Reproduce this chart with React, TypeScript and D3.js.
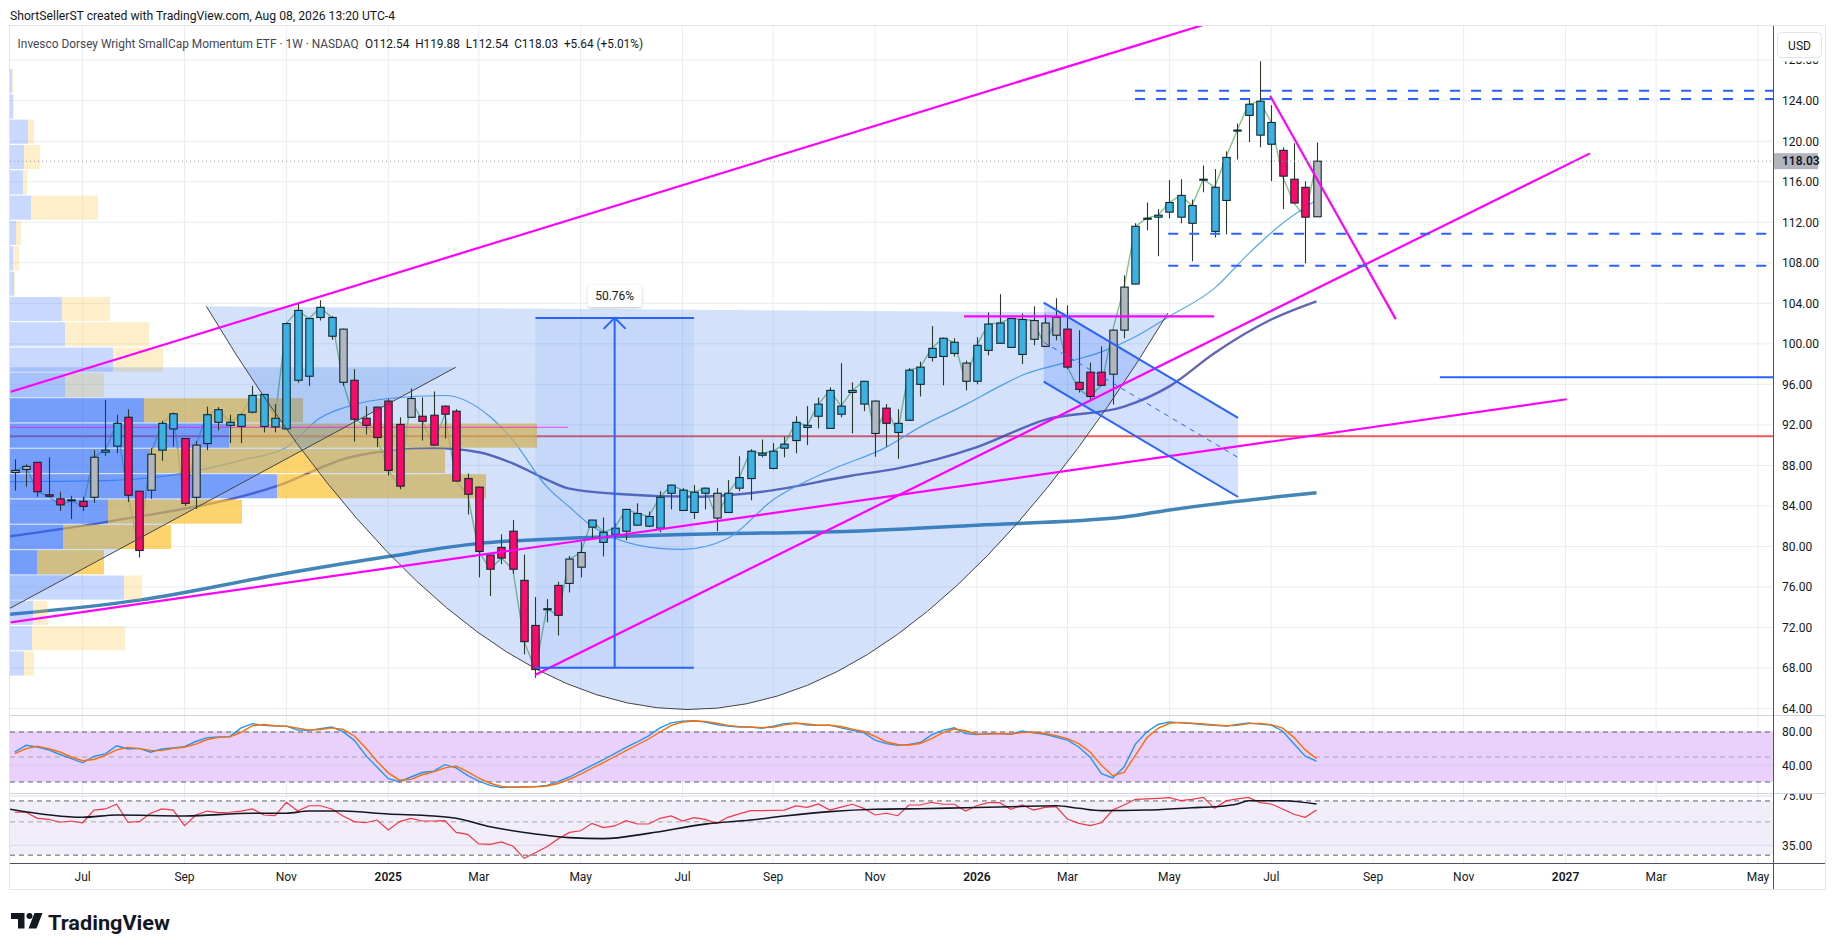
import * as d3 from 'd3';

const W = 1835;
const H = 951;
const FONT = "Roboto, 'Noto Sans', Arial, sans-serif";

// first visible weekly bar (Monday)
const firstBar = new Date(2024, 4, 20);

// weekly OHLC, oldest first
const opens = [
  87.3, 87.6, 88.3, 85.1, 84.7, 84.6, 84.45, 84.85, 89.3, 89.9,
  92.75, 85.45, 85.55, 89.5, 91.6, 90.65, 84.85, 90.15, 92.25, 91.95,
  91.85, 93.25, 91.85, 91.8, 91.6, 96.4, 96.8, 102.6, 100.75, 101.45,
  96.4, 92.65, 93.75, 94.35, 92.05, 92.75, 92.85, 92.95, 93.85, 93.35,
  86.7, 85.85, 79.15, 79.9, 81.5, 76.65, 72.2, 73.8, 76.15, 76.35,
  77.95, 81.9, 80.4, 81.2, 81.5, 82.1, 82.0, 81.8, 85.25, 83.55,
  83.35, 85.25, 85.25, 83.35, 85.75, 86.7, 89.0, 87.7, 89.7, 90.45,
  91.75, 92.85, 91.65, 93.05, 95.2, 94.05, 94.35, 92.15, 92.15, 92.45,
  96.0, 98.65, 98.75, 99.05, 98.1, 96.3, 99.35, 100.05, 99.65, 98.95,
  100.45, 102.05, 100.85, 101.45, 96.2, 97.2, 97.2, 97.0, 101.35, 105.9,
  112.3, 112.5, 113.0, 112.5, 111.9, 116.15, 111.1, 114.15, 121.05, 122.55,
  120.6, 119.7, 119.1, 116.25, 115.45, 112.54,
];
const highs = [
  88.6, 88.1, 88.3, 88.8, 85.4, 85.0, 84.9, 89.5, 94.45, 93.0,
  93.55, 85.5, 89.7, 92.4, 93.2, 90.7, 90.4, 93.8, 93.75, 93.0,
  93.15, 95.85, 95.05, 94.05, 102.1, 103.95, 102.5, 104.3, 102.75, 101.5,
  97.5, 93.85, 93.8, 94.55, 92.75, 95.6, 94.7, 95.3, 93.9, 93.55,
  87.2, 85.9, 79.2, 81.2, 82.6, 79.2, 75.0, 74.8, 76.5, 79.05,
  80.45, 82.6, 82.85, 82.3, 83.7, 84.25, 83.45, 85.45, 86.05, 85.75,
  86.05, 85.8, 85.75, 86.55, 88.9, 89.6, 90.55, 90.2, 90.85, 92.85,
  93.85, 94.7, 95.7, 98.1, 96.2, 96.3, 94.4, 94.05, 93.55, 97.6,
  98.25, 101.75, 100.6, 100.55, 98.35, 100.65, 103.1, 104.9, 102.55, 103.0,
  103.7, 102.9, 104.5, 103.8, 101.35, 98.15, 99.75, 101.4, 106.75, 111.9,
  113.95, 113.3, 116.15, 116.25, 114.25, 117.6, 117.25, 119.0, 121.75, 124.25,
  127.9, 123.55, 119.4, 119.8, 116.05, 119.88,
];
const lows = [
  85.5, 85.9, 84.9, 84.85, 83.5, 82.7, 83.5, 84.3, 88.95, 89.2,
  84.4, 78.9, 84.7, 88.45, 89.85, 84.0, 83.7, 89.5, 91.45, 90.2,
  90.2, 93.15, 91.25, 91.25, 91.55, 96.15, 95.85, 102.3, 100.4, 95.85,
  90.35, 91.05, 89.8, 87.0, 85.65, 92.7, 90.45, 89.95, 90.65, 86.4,
  83.15, 76.95, 75.1, 78.25, 77.3, 69.35, 67.04, 72.5, 71.2, 75.45,
  76.95, 80.7, 79.0, 80.7, 80.6, 82.05, 81.9, 81.4, 83.65, 83.5,
  82.7, 83.65, 81.5, 83.3, 85.45, 84.55, 88.8, 87.6, 88.8, 89.2,
  90.0, 91.65, 91.6, 92.75, 91.15, 93.35, 88.85, 89.85, 88.65, 92.4,
  94.8, 98.25, 95.9, 98.75, 95.4, 96.0, 98.85, 100.0, 99.6, 98.0,
  99.85, 99.75, 100.35, 97.5, 95.2, 94.35, 95.9, 94.0, 100.55, 105.85,
  111.2, 108.65, 112.4, 111.9, 108.15, 114.95, 110.5, 110.8, 118.2, 119.9,
  119.4, 116.05, 113.3, 113.85, 107.95, 112.54,
];
const closes = [
  87.5, 87.9, 85.4, 84.95, 84.1, 84.5, 83.95, 88.8, 89.5, 92.15,
  85.05, 79.6, 89.1, 92.15, 93.1, 84.25, 90.0, 93.0, 93.5, 92.25,
  93.0, 94.9, 95.0, 92.65, 102.0, 103.3, 102.5, 103.6, 102.6, 96.2,
  92.55, 91.95, 90.75, 87.5, 85.95, 94.6, 92.35, 90.0, 93.05, 86.45,
  85.15, 79.5, 77.75, 78.85, 77.75, 70.6, 67.85, 73.85, 73.2, 78.75,
  79.4, 82.6, 81.4, 81.8, 83.65, 83.25, 82.95, 84.85, 86.05, 85.55,
  85.35, 85.75, 82.8, 85.25, 86.8, 89.4, 89.2, 89.4, 90.1, 92.25,
  91.95, 94.05, 95.4, 93.85, 95.4, 96.3, 91.15, 93.65, 91.25, 97.4,
  97.7, 99.55, 100.55, 100.15, 96.3, 99.85, 101.95, 102.05, 102.5, 102.4,
  102.3, 99.75, 102.6, 97.7, 95.5, 94.8, 95.9, 101.35, 105.6, 111.6,
  112.4, 112.7, 113.95, 114.65, 113.65, 116.25, 115.45, 118.4, 121.1, 123.65,
  123.95, 121.85, 116.55, 113.9, 112.5, 118.03,
];
// bar colouring: u = blue, d = pink, n = grey
const tones =
  'nndddndnuu' + 'ddnuudnuuu' + 'uuuuuuuuun' + 'dddddndddd' + 'dddddddndn' +
  'nuuuuuuuuu' + 'uunuuuuuuu' + 'uuuuuunduu' + 'uuuunuuuuu' + 'nnnddddnnu' +
  'nuuuunuunu' + 'uudddn';

// moving averages [bar index, value]
const ma20 = [
  [-0.4, 86.4], [8, 86.5], [13, 86.9], [20, 88.5], [24, 89.8], [27, 92.7], [30, 94.0], [33, 94.6],
  [38, 94.9], [42, 92.8], [44, 90.5], [47, 85.9], [49, 83.9], [51, 82.0], [57, 79.8], [59, 79.7],
  [63, 80.8], [67, 84.6], [72, 87.5], [77, 89.8], [80, 91.8], [84, 94.0], [87, 95.8], [89, 96.9],
  [93, 98.2], [96, 99.2], [99, 100.7], [102, 102.7], [106, 105.5], [109, 108.9], [112, 111.9], [115, 114.2],
];
const ma50 = [
  [-0.4, 81.0], [8, 82.4], [23, 85.9], [30, 88.9], [37, 89.7], [41, 89.3], [44, 88.2], [47, 86.6],
  [49, 85.7], [53, 85.2], [60, 84.9], [66, 85.4], [74, 87.0], [78, 87.7], [85, 89.8], [91, 92.5],
  [98, 93.8], [102, 95.8], [106, 99.1], [111, 102.4], [115, 104.2],
];
const ma200 = [
  [-0.4, 73.3], [11, 74.7], [24, 77.35], [33, 79.0], [41, 80.3], [49, 80.8], [60, 81.2],
  [74, 81.5], [85, 82.1], [98, 82.9], [102, 83.6], [115, 85.3],
];

// stochastic RSI
const stochK = [
  56, 64, 62, 58.5, 53, 48, 43, 50.6, 53.7, 63.5,
  59.6, 60.4, 55.7, 59.6, 61, 62.4, 68.6, 73.3, 74, 74.5,
  85, 90, 88, 87, 87, 82.4, 82, 84, 86, 80.4,
  70, 52, 38, 24, 20.4, 26, 31.4, 33, 40.8, 37,
  28, 21, 16, 13.3, 14, 14, 14.5, 16, 20.4, 26,
  33, 40, 46.7, 54, 61.5, 68, 75.3, 85, 91, 93,
  93.5, 92, 89, 87, 86, 86, 84.4, 87, 90, 91,
  88.2, 88, 88.2, 85, 82, 79.2, 70.2, 66, 63.9, 65,
  67.4, 76.5, 82, 85.1, 78, 77, 78, 78, 77.3, 81.2,
  79, 77.3, 74, 70.2, 62, 49.8, 30, 25, 38, 65.5,
  80, 89, 92.1, 91, 90.2, 89, 88, 87, 89, 91,
  89.5, 88.2, 81.2, 66, 50.9, 45.1,
];
const stochD = [
  54, 60, 63, 60, 56, 50, 45.5, 47, 52, 58.5,
  61.5, 60, 58, 57.6, 60.3, 61.7, 65.5, 71, 73.6, 74.2,
  79.7, 87.5, 89, 87.5, 87, 84.7, 82.2, 83, 85, 83.2,
  75.2, 61, 45, 31, 22.2, 23.2, 28.7, 32.2, 37, 39,
  32.5, 24.5, 18.5, 14.6, 13.6, 14, 14.2, 15.2, 18.2, 23.2,
  29.5, 36.5, 43.3, 50.3, 57.7, 64.7, 71.6, 80, 88, 92,
  93.2, 92.7, 90.5, 88, 86.5, 86, 85.2, 85.7, 88.5, 90.5,
  89.6, 88.1, 88.1, 86.6, 83.5, 80.6, 74.7, 68, 65, 64.4,
  66.2, 72, 79.2, 83.5, 81.5, 77.5, 77.5, 78, 77.6, 79.2,
  80, 78.2, 75.6, 72, 66, 56, 40, 27.5, 31.5, 52,
  72.7, 84.5, 90.5, 91.5, 90.6, 89.6, 88.5, 87.5, 88, 90,
  90.2, 88.8, 84.7, 73.6, 58.5, 48,
];

// RSI and its moving average
const rsi = [
  61.8, 61.8, 56.9, 56.1, 53.7, 54.7, 53.3, 63.6, 64.5, 68.3,
  53.7, 54.2, 61, 64.5, 63.6, 50.9, 59.6, 62.8, 61.5, 61.8,
  62.8, 64.5, 59.6, 59, 69.9, 62.8, 67.1, 67.1, 64.5, 58.8,
  54.2, 53.3, 55.5, 47.4, 54.2, 56.9, 54.7, 54.7, 55, 45.5,
  43.9, 36.1, 35.8, 37.7, 34.4, 24.4, 29, 33.9, 40.1, 45.5,
  46.8, 52.8, 49.3, 50.7, 55, 52.3, 52.3, 56.9, 58.8, 54.7,
  57.5, 56, 52.8, 57.7, 60.5, 63.1, 63.1, 63.4, 63.6, 66.9,
  65.8, 68.5, 63.6, 66, 68.3, 65, 59.6, 61, 59, 67.7,
  67.7, 69.9, 68.3, 68.3, 62.8, 67.1, 69.6, 69.6, 64.2, 67.7,
  63.6, 65.8, 66.3, 56.3, 52.8, 50.9, 53.3, 63.6, 67.7, 72.3,
  72.6, 73.1, 73.6, 71.2, 72.3, 73.9, 65, 71, 72.6, 73.9,
  69.6, 68.5, 64.5, 60.2, 57.7, 63.6,
];
const rsiMa = [
  [-0.4, 64.2], [6, 57.7], [9, 59.6], [15, 58.8], [21, 61], [24, 61], [26, 62.8], [29, 62.8],
  [33, 60.4], [37, 58.8], [39, 56.9], [42, 50.1], [46, 44.2], [49, 41.2], [52, 40.4], [56, 44.7],
  [61, 52.2], [65, 55.5], [68, 58.8], [72, 62.3], [76, 64.2], [80, 64.7], [84, 65.5], [88, 66.3],
  [92, 67.1], [94, 65], [96, 63.1], [100, 63.6], [104, 65.5], [106, 66.3], [108, 68.5], [109, 71.2],
  [112, 71.2], [115, 68.5],
];

// visible range volume profile, lowest price row first (thousand shares)
const vpLow = 67.13;
const vpStep = 2.5;
const vpUp = [140, 220, 230, 1140, 270, 530, 980, 2670, 1400, 2190, 1340, 550, 1030, 550, 520, 40, 30, 60, 210, 130, 140, 180, 30, 20];
const vpDown = [100, 930, 145, 180, 670, 1080, 1340, 2090, 2950, 3080, 1590, 390, 500, 840, 480, 10, 60, 50, 670, 40, 160, 60, 5, 10];
const vpValueArea = [4, 10];

// drawings: [bar index, price]
const magentaLines = [
  [[-0.35, 95.27], [110, 133.2]],
  [[-0.35, 72.51], [137.1, 94.53]],
  [[45.96, 67.31], [139.16, 118.8]],
  [[83.86, 102.7], [105.95, 102.7]],
  [[110.9, 124.49], [122.0, 102.44]],
];
const faintLine = [[-0.5, 91.76], [48.9, 91.76]];
const dashedLevels = [
  [98.97, 124.99], [98.97, 124.17], [101.9, 110.87], [101.9, 107.71],
];
const solidLevel = [125.9, 96.71];
const cupArc = { start: [16.93, 103.7], bottom: [59.4, 63.9], end: [101.88, 103.04] };
const wedge = { low: [-0.42, 73.89], high: [38.96, 97.68] };
const channel = { upper: [[90.9, 104.06], [108.07, 92.68]], offset: 7.8 };
const measure = { from: 46, to: 60, arrow: 53, low: 68.03, high: 102.56, label: '50.76%' };
const lastPrice = 118.03;

const priceTicks = d3.range(64, 129, 4);

const TONE: Record<string, string> = { u: '#3cb1e3', d: '#fb0a6a', n: '#b3b6bf' };
const GRID = '#e8edf3';
const BLUE = '#2962ff';
const MAGENTA = '#ff00ff';

const L = 10;
const R = 1773;
const T = 26;
const MAIN_B = 715;
const P2_B = 793;
const P3_B = 863;
const BOTTOM = 889;
const AX_R = 1825;

export default function App() {
  const lastBar = d3.timeMonday.offset(firstBar, closes.length - 1);
  const xi = d3.scaleLinear().domain([0, closes.length - 1]).range([14.7, 1316.5]);
  const xt = d3.scaleTime().domain([firstBar, lastBar]).range([14.7, 1316.5]);
  const y = d3.scaleLinear().domain([64, 124]).range([708.5, 100.7]);
  const y2 = d3.scaleLinear().domain([20, 80]).range([782, 732]);
  const y3 = d3.scaleLinear().domain([35, 75]).range([845.3, 796]);
  const rightIdx = xi.invert(R);

  const pt = (p: number[]) => [xi(p[0]), y(p[1])];
  const maLine = d3
    .line<number[]>()
    .x((d) => xi(d[0]))
    .y((d) => y(d[1]))
    .curve(d3.curveMonotoneX);
  const closeLine = d3
    .line<number>()
    .x((_, i) => xi(i))
    .y((d) => y(d));
  const p2Line = d3
    .line<number>()
    .x((_, i) => xi(i))
    .y((d) => y2(d));
  const p3Line = d3
    .line<number>()
    .x((_, i) => xi(i))
    .y((d) => y3(d));
  const p3Ma = d3
    .line<number[]>()
    .x((d) => xi(d[0]))
    .y((d) => y3(d[1]))
    .curve(d3.curveMonotoneX);

  // month ticks at the first weekly bar of every other month
  const months = d3.timeMonth.range(new Date(2024, 6, 1), new Date(2027, 5, 2), 2);
  const timeTicks = months.map((m) => ({
    x: xt(d3.timeMonday.ceil(m)),
    label: m.getMonth() === 0 ? String(m.getFullYear()) : d3.timeFormat('%b')(m),
    year: m.getMonth() === 0,
  }));

  // volume profile
  const vpTotals = vpUp.map((u, i) => u + vpDown[i]);
  const xv = d3.scaleLinear().domain([0, d3.max(vpTotals) as number]).range([0, 527]);
  const pocRow = vpTotals.indexOf(d3.max(vpTotals) as number);
  const pocPrice = vpLow + (pocRow + 0.5) * vpStep;

  // cup arc as quadratic curve through the bottom point
  const [ax, ay] = pt(cupArc.start);
  const [bx, by] = pt(cupArc.bottom);
  const [ex, ey] = pt(cupArc.end);
  const cx = 2 * bx - (ax + ex) / 2;
  const cy = 2 * by - (ay + ey) / 2;
  const arcPath = `M${ax},${ay} Q${cx},${cy} ${ex},${ey}`;

  // wedge
  const [wlx, wly] = pt(wedge.low);
  const [whx, why] = pt(wedge.high);
  const wedgeLeftY = wly + ((why - wly) / (whx - wlx)) * (L - 2 - wlx);

  // channel
  const [u0, u1] = channel.upper;
  const l0 = [u0[0], u0[1] - channel.offset];
  const l1 = [u1[0], u1[1] - channel.offset];
  const m0 = [u0[0], u0[1] - channel.offset / 2];
  const m1 = [u1[0], u1[1] - channel.offset / 2];

  const mx0 = xi(measure.from);
  const mx1 = xi(measure.to);
  const mxa = xi(measure.arrow);
  const myTop = y(measure.high);
  const myBot = y(measure.low);

  const cw = 7.4;

  return (
    <svg
      width={W}
      height={H}
      viewBox={`0 0 ${W} ${H}`}
      style={{ position: 'absolute', left: 0, top: 0, background: '#fff' }}
      fontFamily={FONT}
    >
      <defs>
        <clipPath id="clipMain">
          <rect x={L} y={T} width={R - L} height={MAIN_B - T} />
        </clipPath>
        <clipPath id="clipP2">
          <rect x={L} y={MAIN_B} width={R - L} height={P2_B - MAIN_B} />
        </clipPath>
        <clipPath id="clipP3">
          <rect x={L} y={P2_B} width={R - L} height={P3_B - P2_B} />
        </clipPath>
        <clipPath id="clipAxis">
          <rect x={R} y={61.5} width={AX_R - R} height={MAIN_B - 61.5} />
        </clipPath>
        <clipPath id="clipAxis3">
          <rect x={R} y={P2_B + 1} width={AX_R - R} height={P3_B - P2_B - 1} />
        </clipPath>
        <filter id="shadow" x="-20%" y="-30%" width="140%" height="160%">
          <feDropShadow dx="0" dy="1" stdDeviation="1.5" floodColor="#000" floodOpacity="0.25" />
        </filter>
      </defs>

      <rect width={W} height={H} fill="#fff" />

      {/* header */}
      <text x={10} y={19.5} fontSize={13} fill="#131722" textLength={385} lengthAdjust="spacingAndGlyphs">
        ShortSellerST created with TradingView.com, Aug 08, 2026 13:20 UTC-4
      </text>

      {/* frame */}
      <rect x={L - 0.5} y={T - 0.5} width={AX_R - L + 1} height={BOTTOM - T + 1} fill="none" stroke="#e0e3eb" />

      {/* vertical grid across panes */}
      {timeTicks
        .filter((t) => t.x > L && t.x < R)
        .map((t) => (
          <line key={'vg' + t.label + t.x} x1={t.x} x2={t.x} y1={T} y2={P3_B} stroke={GRID} />
        ))}

      {/* main pane */}
      <g clipPath="url(#clipMain)">
        {priceTicks.map((p) => (
          <line key={'hg' + p} x1={L} x2={R} y1={y(p)} y2={y(p)} stroke={GRID} />
        ))}

        {/* point of control */}
        <line x1={L} x2={R} y1={y(pocPrice)} y2={y(pocPrice)} stroke="#ef3b3b" strokeWidth={2} opacity={0.85} />

        {/* moving averages, under the profile */}
        <path d={maLine(ma200) ?? ''} fill="none" stroke="#2f78ae" strokeWidth={3.5} opacity={0.9} />
        <path d={maLine(ma50) ?? ''} fill="none" stroke="#3c3f9e" strokeWidth={2.4} opacity={0.8} />
        <path d={maLine(ma20) ?? ''} fill="none" stroke="#5aa9f2" strokeWidth={1.2} />

        {/* close line */}
        <path d={closeLine(closes) ?? ''} fill="none" stroke="rgba(67,160,71,0.65)" strokeWidth={1.4} />

        {/* volume profile */}
        {vpUp.map((u, i) => {
          const inVA = i >= vpValueArea[0] && i <= vpValueArea[1];
          const top = y(vpLow + (i + 1) * vpStep);
          const h = y(vpLow + i * vpStep) - top - 1.2;
          return (
            <g key={'vp' + i}>
              <rect x={L} y={top} width={xv(u)} height={h} fill={inVA ? 'rgba(41,98,255,0.55)' : 'rgba(41,98,255,0.25)'} />
              <rect
                x={L + xv(u)}
                y={top}
                width={xv(vpDown[i])}
                height={h}
                fill={inVA ? 'rgba(251,192,45,0.7)' : 'rgba(251,192,45,0.25)'}
              />
            </g>
          );
        })}

        {/* shaded drawings */}
        <path d={`${arcPath} Z`} fill="rgba(33,110,230,0.2)" />
        <path d={`M${L - 2},${wedgeLeftY} L${whx},${why} L${L - 2},${why} Z`} fill="rgba(33,110,230,0.2)" />
        <path d={`M${pt(u0)} L${pt(u1)} L${pt(l1)} L${pt(l0)} Z`} fill="rgba(41,98,255,0.2)" />
        <rect x={mx0} y={myTop} width={mx1 - mx0} height={myBot - myTop} fill="rgba(41,98,255,0.08)" />

        <line
          x1={xi(faintLine[0][0])}
          x2={xi(faintLine[1][0])}
          y1={y(faintLine[0][1])}
          y2={y(faintLine[1][1])}
          stroke={MAGENTA}
          strokeWidth={1.2}
          opacity={0.55}
        />

        {/* candles */}
        {closes.map((c, i) => {
          const o = opens[i];
          const x = Math.round(xi(i)) + 0.5;
          const y0 = y(Math.max(o, c));
          const y1 = Math.max(y(Math.min(o, c)), y0 + 1);
          return (
            <g key={'c' + i}>
              <line x1={x} x2={x} y1={y(highs[i])} y2={y(lows[i])} stroke="#2c3b27" strokeWidth={1.1} />
              <rect x={x - cw / 2} y={y0} width={cw} height={y1 - y0} fill={TONE[tones[i]]} stroke="#0f2830" strokeWidth={1.1} />
            </g>
          );
        })}

        {/* line drawings */}
        <path d={arcPath} fill="none" stroke="#444" strokeWidth={1} />
        <line x1={L - 2} y1={wedgeLeftY} x2={whx} y2={why} stroke="#444" strokeWidth={1} />

        {magentaLines.map(([a, b], i) => {
          const [x1, y1] = pt(a);
          const [x2, y2v] = pt(b);
          return <line key={'mg' + i} x1={x1} y1={y1} x2={x2} y2={y2v} stroke={MAGENTA} strokeWidth={2.2} />;
        })}

        {dashedLevels.map(([from, p], i) => (
          <line key={'dl' + i} x1={xi(from)} x2={xi(rightIdx)} y1={y(p)} y2={y(p)} stroke={BLUE} strokeWidth={2} strokeDasharray="10 11" />
        ))}
        <line x1={xi(solidLevel[0])} x2={R} y1={y(solidLevel[1])} y2={y(solidLevel[1])} stroke={BLUE} strokeWidth={2} />

        {/* channel */}
        <line x1={pt(u0)[0]} y1={pt(u0)[1]} x2={pt(u1)[0]} y2={pt(u1)[1]} stroke={BLUE} strokeWidth={2} />
        <line x1={pt(l0)[0]} y1={pt(l0)[1]} x2={pt(l1)[0]} y2={pt(l1)[1]} stroke={BLUE} strokeWidth={2} />
        <line x1={pt(m0)[0]} y1={pt(m0)[1]} x2={pt(m1)[0]} y2={pt(m1)[1]} stroke={BLUE} strokeWidth={1} strokeDasharray="5 5" />

        {/* price range measure */}
        <line x1={mx0} x2={mx1} y1={myTop} y2={myTop} stroke={BLUE} strokeWidth={2} />
        <line x1={mx0} x2={mx1} y1={myBot} y2={myBot} stroke={BLUE} strokeWidth={2} />
        <line x1={mxa} x2={mxa} y1={myBot} y2={myTop} stroke={BLUE} strokeWidth={2} />
        <path d={`M${mxa - 11},${myTop + 11} L${mxa},${myTop} L${mxa + 11},${myTop + 11}`} fill="none" stroke={BLUE} strokeWidth={2} />

        {/* last price */}
        <line x1={L} x2={R} y1={y(lastPrice)} y2={y(lastPrice)} stroke="#9598a1" strokeDasharray="1 3" />

        <g filter="url(#shadow)">
          <rect x={mxa - 27} y={myTop - 33} width={54} height={22} rx={4} fill="#fff" />
        </g>
        <text x={mxa} y={myTop - 18} fontSize={12} fill="#131722" textAnchor="middle">
          {measure.label}
        </text>

        {/* legend */}
        <text x={17.6} y={47.5} fontSize={12.5} fill="#434651" textLength={341} lengthAdjust="spacingAndGlyphs">
          Invesco Dorsey Wright SmallCap Momentum ETF · 1W · NASDAQ
        </text>
        <text x={365} y={47.5} fontSize={12.5} fill="#131722" textLength={278} lengthAdjust="spacingAndGlyphs" xmlSpace="preserve">
          O112.54  H119.88  L112.54  C118.03  +5.64 (+5.01%)
        </text>
      </g>

      {/* stochastic RSI pane */}
      <g clipPath="url(#clipP2)">
        <rect x={L} y={y2(80)} width={R - L} height={y2(20) - y2(80)} fill="#e9d1fc" />
        {[80, 40].map((v) => (
          <line key={'g2' + v} x1={L} x2={R} y1={y2(v)} y2={y2(v)} stroke="#d6cbe8" />
        ))}
        <line x1={L} x2={R} y1={y2(80)} y2={y2(80)} stroke="#5d606b" strokeDasharray="5 4" />
        <line x1={L} x2={R} y1={y2(50)} y2={y2(50)} stroke="#a3a6af" strokeDasharray="5 4" />
        <line x1={L} x2={R} y1={y2(20)} y2={y2(20)} stroke="#5d606b" strokeDasharray="5 4" />
        <path d={p2Line(stochK) ?? ''} fill="none" stroke="#2196f3" strokeWidth={1.4} />
        <path d={p2Line(stochD) ?? ''} fill="none" stroke="#ff6d00" strokeWidth={1.4} />
      </g>

      {/* RSI pane */}
      <g clipPath="url(#clipP3)">
        <rect x={L} y={y3(71)} width={R - L} height={y3(27) - y3(71)} fill="#f1eef9" />
        {[75, 35].map((v) => (
          <line key={'g3' + v} x1={L} x2={R} y1={y3(v)} y2={y3(v)} stroke="#dcd8ea" />
        ))}
        <line x1={L} x2={R} y1={y3(71)} y2={y3(71)} stroke="#5d606b" strokeDasharray="5 4" />
        <line x1={L} x2={R} y1={y3(54)} y2={y3(54)} stroke="#a3a6af" strokeDasharray="5 4" />
        <line x1={L} x2={R} y1={y3(27)} y2={y3(27)} stroke="#5d606b" strokeDasharray="5 4" />
        <path d={p3Line(rsi) ?? ''} fill="none" stroke="#f23645" strokeWidth={1.2} />
        <path d={p3Ma(rsiMa) ?? ''} fill="none" stroke="#131722" strokeWidth={1.6} />
      </g>

      {/* pane separators and axes */}
      <line x1={L} x2={AX_R} y1={MAIN_B + 0.5} y2={MAIN_B + 0.5} stroke="#d1d4dc" />
      <line x1={L} x2={AX_R} y1={P2_B + 0.5} y2={P2_B + 0.5} stroke="#d1d4dc" />
      <line x1={L} x2={AX_R} y1={P3_B + 0.5} y2={P3_B + 0.5} stroke="#50535e" />
      <line x1={R + 0.5} x2={R + 0.5} y1={T} y2={BOTTOM} stroke="#50535e" />

      {/* price axis */}
      <g clipPath="url(#clipAxis)">
        {priceTicks.map((p) => (
          <text key={'pl' + p} x={1782} y={y(p) + 4.3} fontSize={12} fill="#131722">
            {p.toFixed(2)}
          </text>
        ))}
      </g>
      <rect x={1777.5} y={32.5} width={44} height={25} rx={4} fill="#fff" stroke="#e0e3eb" />
      <text x={1799.5} y={49.5} fontSize={12} fill="#131722" textAnchor="middle">
        USD
      </text>
      <rect x={1774} y={y(lastPrice) - 8} width={44} height={16} fill="#b2b5be" />
      <text x={1782} y={y(lastPrice) + 4.3} fontSize={12} fontWeight={600} fill="#131722">
        {lastPrice.toFixed(2)}
      </text>

      {[80, 40].map((v) => (
        <text key={'a2' + v} x={1782} y={y2(v) + 4.3} fontSize={12} fill="#131722">
          {v.toFixed(2)}
        </text>
      ))}
      <g clipPath="url(#clipAxis3)">
        {[75, 35].map((v) => (
          <text key={'a3' + v} x={1782} y={y3(v) + 4.3} fontSize={12} fill="#131722">
            {v.toFixed(2)}
          </text>
        ))}
      </g>

      {/* time axis */}
      {timeTicks
        .filter((t) => t.x > L + 8 && t.x < R - 8)
        .map((t) => (
          <text
            key={'tl' + t.label + t.x}
            x={t.x}
            y={880.5}
            fontSize={12}
            fill="#131722"
            textAnchor="middle"
            fontWeight={t.year ? 600 : 400}
          >
            {t.label}
          </text>
        ))}

      {/* TradingView logo */}
      <g fill="#131722">
        <path d="M11,913 H24.5 V928.5 H18 V919 H11 Z" />
        <circle cx={29.5} cy={916} r={3} />
        <path d="M34.5,913 H42.5 L36.5,928.5 H28.5 Z" />
        <text x={48} y={929.5} fontSize={21} fontWeight={700} textLength={122} lengthAdjust="spacingAndGlyphs">
          TradingView
        </text>
      </g>
    </svg>
  );
}
